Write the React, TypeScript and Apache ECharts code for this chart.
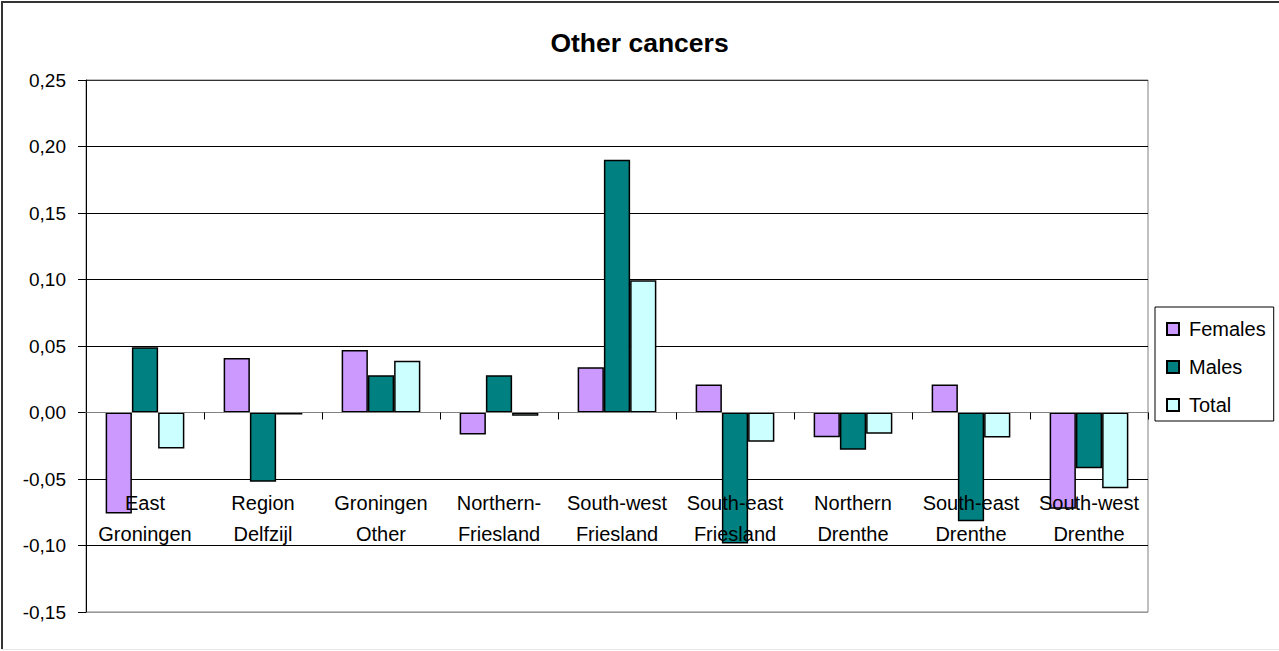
import React, { useEffect, useRef } from "react";
import * as echarts from "echarts";

const categories = [
  "East\nGroningen",
  "Region\nDelfzijl",
  "Groningen\nOther",
  "Northern-\nFriesland",
  "South-west\nFriesland",
  "South-east\nFriesland",
  "Northern\nDrenthe",
  "South-east\nDrenthe",
  "South-west\nDrenthe",
];
const females = [-0.076, 0.041, 0.047, -0.0165, 0.034, 0.021, -0.0186, 0.021, -0.0724];
const males = [0.049, -0.052, 0.028, 0.028, 0.19, -0.0985, -0.028, -0.0817, -0.042];
const total = [-0.027, -0.0015, 0.039, -0.0025, 0.0995, -0.022, -0.016, -0.0188, -0.057];

const seriesNames = ["Females", "Males", "Total"];
const seriesColors = ["#CC99FF", "#008080", "#CCFFFF"];
const yMin = -0.15;
const yMax = 0.25;
const yStep = 0.05;
const title = "Other cancers";

export default function App() {
  const ref = useRef<HTMLDivElement>(null);
  useEffect(() => {
    if (!ref.current) return;
    const chart = echarts.init(ref.current, null, { renderer: "svg" });
    const data = [females, males, total];
    chart.setOption({
      animation: false,
      textStyle: { fontFamily: "Arial, 'Liberation Sans', sans-serif" },
      title: {
        text: title,
        left: "center",
        top: 24,
        textStyle: { fontSize: 26.5, fontWeight: "bold", color: "#000", fontFamily: "Arial, 'Liberation Sans', sans-serif" },
      },
      graphic: [
        { type: "line", shape: { x1: 1, y1: 2, x2: 1279, y2: 2 }, style: { stroke: "#333", lineWidth: 2 } },
        { type: "line", shape: { x1: 2, y1: 1, x2: 2, y2: 650 }, style: { stroke: "#333", lineWidth: 2 } },
        { type: "line", shape: { x1: 1, y1: 649.5, x2: 1279, y2: 649.5 }, style: { stroke: "#e6e6e6", lineWidth: 1 } },
      ],
      legend: {
        orient: "vertical",
        left: 1155,
        top: 307,
        padding: [12, 8, 6, 11],
        itemGap: 18,
        itemWidth: 12,
        itemHeight: 12,
        borderColor: "#000",
        borderWidth: 1,
        icon: "rect",
        textStyle: { fontSize: 20, color: "#000", padding: [0, 0, 0, 5] },
        data: seriesNames,
      },
      grid: {
        left: 86,
        top: 80,
        width: 1062,
        height: 532,
        show: true,
        borderColor: "#808080",
        borderWidth: 1,
        containLabel: false,
        outerBoundsMode: "none",
      },
      xAxis: {
        type: "category",
        data: categories,
        z: 10,
        boundaryGap: true,
        axisLine: { onZero: true, lineStyle: { color: "#808080", width: 1 } },
        axisTick: { show: true, length: 7, lineStyle: { color: "#000" } },
        axisLabel: { margin: -124.5, fontSize: 20, lineHeight: 31, color: "#000", interval: 0 },
        splitLine: { show: false },
      },
      yAxis: {
        type: "value",
        min: yMin,
        max: yMax,
        interval: yStep,
        axisLine: { show: true, lineStyle: { color: "#000" } },
        axisTick: { show: true, length: 8, lineStyle: { color: "#000" } },
        axisLabel: {
          fontSize: 19,
          color: "#000",
          margin: 20,
          formatter: (v: number) => v.toFixed(2).replace(".", ","),
        },
        splitLine: {
          show: true,
          lineStyle: {
            color: ["#999", "#000", "#000", "#000", "#000", "#000", "#000", "#000", "#333"],
            width: 1,
          },
        },
      },
      series: seriesNames.map((name, i) => ({
        name,
        type: "bar",
        data: data[i],
        barGap: "0%",
        barCategoryGap: "33.3%",
        itemStyle: { color: seriesColors[i], borderColor: "#000", borderWidth: 1.5 },
      })),
    });
    return () => chart.dispose();
  }, []);
  return (
    <div
      ref={ref}
      style={{ position: "fixed", left: 0, top: 0, width: 1279, height: 651, background: "#fff" }}
    />
  );
}
